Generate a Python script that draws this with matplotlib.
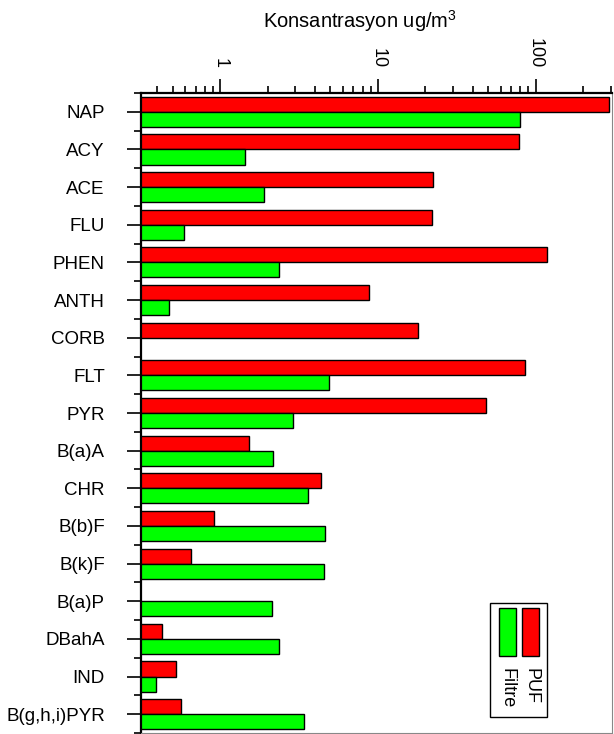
import numpy as np
import matplotlib
matplotlib.use('Agg')
import matplotlib.pyplot as plt
from matplotlib.patches import Rectangle
from matplotlib.ticker import LogLocator, NullFormatter, FixedLocator

plt.rcParams['font.family'] = ['Liberation Sans', 'DejaVu Sans']
plt.rcParams['mathtext.default'] = 'regular'

# PAH bilesikleri ve konsantrasyonlar (ug/m3)
bilesikler = ['NAP', 'ACY', 'ACE', 'FLU', 'PHEN', 'ANTH', 'CORB', 'FLT', 'PYR',
              'B(a)A', 'CHR', 'B(b)F', 'B(k)F', 'B(a)P', 'DBahA', 'IND', 'B(g,h,i)PYR']
puf = [292, 78.3, 22.2, 22.1, 117.5, 8.83, 17.9, 85.2, 48.2,
       1.53, 4.33, 0.907, 0.654, np.nan, 0.424, 0.526, 0.56]
filtre = [79.5, 1.44, 1.91, 0.59, 2.35, 0.475, np.nan, 4.87, 2.88,
          2.16, 3.58, 4.59, 4.55, 2.14, 2.36, 0.392, 3.40]

fig = plt.figure(figsize=(6.14, 7.34), dpi=100)
ax = fig.add_axes([141/614, 1/734, 471/614, 640/734])

y = np.arange(len(bilesikler))
h = 0.4
ax.barh(y - h/2, puf, height=h, left=1e-3, color='#ff0000', edgecolor='black', linewidth=1)
ax.barh(y + h/2, filtre, height=h, left=1e-3, color='#00ff00', edgecolor='black', linewidth=1)

ax.set_xscale('log')
ax.set_xlim(0.315, 305)
ax.set_ylim(len(bilesikler) - 0.5, -0.5)

# x ekseni ustte
ax.xaxis.tick_top()
ax.xaxis.set_major_locator(FixedLocator([1, 10, 100]))
ax.set_xticklabels(['1', '10', '100'], rotation=-90, fontsize=13)
ax.xaxis.set_minor_locator(LogLocator(base=10, subs=np.arange(2, 10), numticks=20))
ax.xaxis.set_minor_formatter(NullFormatter())
ax.tick_params(axis='x', which='major', length=10, width=1.2, pad=8)
ax.tick_params(axis='x', which='minor', length=5, width=1.2)

ax.set_yticks(y)
ax.set_yticklabels(bilesikler, fontsize=13.5)
ax.set_yticks(np.arange(len(bilesikler) + 1) - 0.5, minor=True)
ax.tick_params(axis='y', which='major', length=10, width=1.2, pad=16)
ax.tick_params(axis='y', which='minor', length=5, width=1.2)

ax.spines['top'].set_linewidth(1.6)
ax.spines['left'].set_linewidth(1.6)
ax.spines['right'].set_linewidth(0.8)
ax.spines['right'].set_color('#888888')
ax.spines['bottom'].set_linewidth(0.8)
ax.spines['bottom'].set_color('#888888')

fig.text(360/614, 1 - 21/734, 'Konsantrasyon ug/m$^3$', ha='center', va='center', fontsize=14.5)

# dik lejant
ax.add_patch(Rectangle((0.741, 0.025), 0.121, 0.178, transform=ax.transAxes,
                       facecolor='white', edgecolor='black', linewidth=1, zorder=5))
ax.add_patch(Rectangle((0.760, 0.120), 0.036, 0.075, transform=ax.transAxes,
                       facecolor='#00ff00', edgecolor='black', linewidth=1, zorder=6))
ax.add_patch(Rectangle((0.809, 0.120), 0.036, 0.075, transform=ax.transAxes,
                       facecolor='#ff0000', edgecolor='black', linewidth=1, zorder=6))
ax.text(0.778, 0.102, 'Filtre', rotation=-90, ha='center', va='top',
        fontsize=13, transform=ax.transAxes, zorder=7)
ax.text(0.827, 0.102, 'PUF', rotation=-90, ha='center', va='top',
        fontsize=13, transform=ax.transAxes, zorder=7)

fig.savefig('out.png', dpi=100)
